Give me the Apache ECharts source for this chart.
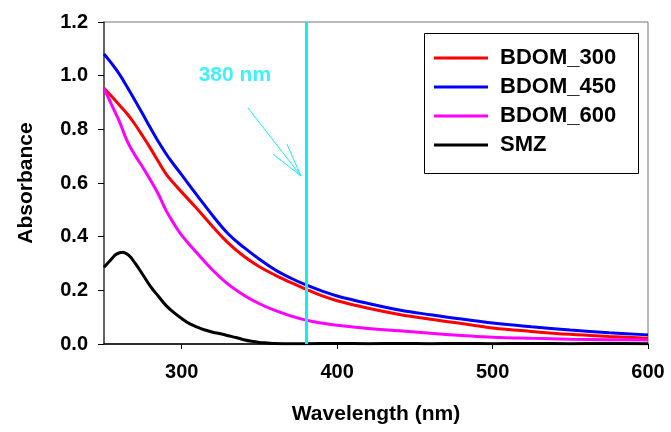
<!DOCTYPE html>
<html>
<head>
<meta charset="utf-8">
<script src="https://cdn.jsdelivr.net/npm/echarts@6/dist/echarts.min.js"></script>
<style>html,body{margin:0;padding:0;background:#fff}#c{width:671px;height:432px}</style>
</head>
<body>
<div id="c"></div>
<script>
var wlDOM = [250,255,260,265,270,275,280,285,290,295,300,310,320,330,340,350,360,370,380,390,400,420,440,460,480,500,525,550,575,600];
var bdom300 = [0.953,0.922,0.890,0.857,0.818,0.774,0.728,0.680,0.633,0.598,0.566,0.503,0.437,0.376,0.327,0.288,0.257,0.230,0.204,0.180,0.161,0.133,0.110,0.092,0.076,0.060,0.047,0.036,0.028,0.021];
var bdom450 = [1.081,1.045,1.005,0.957,0.907,0.856,0.804,0.754,0.708,0.668,0.630,0.553,0.478,0.410,0.360,0.316,0.277,0.246,0.220,0.198,0.179,0.151,0.127,0.109,0.093,0.078,0.064,0.052,0.042,0.034];
var bdom600 = [0.953,0.890,0.828,0.755,0.703,0.658,0.610,0.558,0.497,0.448,0.405,0.338,0.275,0.222,0.182,0.150,0.125,0.105,0.089,0.078,0.070,0.058,0.049,0.040,0.032,0.025,0.021,0.018,0.016,0.015];
var wlSMZ = [250,255,258,262,266,270,275,280,285,290,295,300,305,310,315,320,325,330,335,340,345,350,355,360,370,380,400,420,440,460,480,500,525,550,575,600];
var smz = [0.286,0.318,0.335,0.342,0.330,0.301,0.258,0.214,0.178,0.143,0.117,0.095,0.076,0.063,0.052,0.044,0.038,0.031,0.024,0.016,0.010,0.006,0.004,0.002,0.001,0.001,0.002,0.001,0.002,0.001,0.002,0.001,0.002,0.001,0.002,0.001];
var xTicks = [300,400,500,600];
var markWavelength = 380;
var arrowShaft = [[342.6,0.880],[376.7,0.626]];
var arrowHead = [[358.7,0.708],[376.7,0.626],[367.7,0.745]];
var noteText = '380 nm';
var notePos = [334.2,1.003];

function pairs(xs, ys){ return xs.map(function(x,i){ return [x, ys[i]]; }); }

var FONT = '"Liberation Sans", Arial, sans-serif';
var cyan = '#10EEF2';
var chart = echarts.init(document.getElementById('c'), null, {renderer:'canvas'});
function lineSeries(name, data, color){
  return {name:name, type:'line', data:data, symbol:'none', smooth:0.4,
          lineStyle:{color:color, width:3}, itemStyle:{color:color}, z:3};
}
chart.setOption({
  animation:false,
  backgroundColor:'#fff',
  grid:{left:104, top:22, width:544, height:322, show:true, borderColor:'#777', borderWidth:1, backgroundColor:'transparent'},
  legend:{
    orient:'vertical', left:434, top:47, itemWidth:54, itemHeight:3, itemGap:7, icon:'rect',
    data:['BDOM_300','BDOM_450','BDOM_600','SMZ'],
    textStyle:{fontFamily:FONT, fontWeight:'bold', fontSize:22, color:'#000', lineHeight:21, padding:[0,0,0,7]},
    padding:0
  },
  graphic:[{type:'rect', left:422, top:31, shape:{width:214, height:140}, style:{fill:'none', stroke:'#000', lineWidth:1}, z:-1}],
  xAxis:{
    type:'value', min:250, max:600,
    name:'Wavelength (nm)', nameLocation:'middle', nameGap:60,
    nameTextStyle:{fontFamily:FONT, fontWeight:'bold', fontSize:21, color:'#000'},
    axisLine:{show:true, onZero:false, lineStyle:{color:'#000', width:1.5}},
    axisTick:{show:true, length:5, customValues:xTicks, lineStyle:{color:'#000'}},
    axisLabel:{customValues:xTicks, margin:18, fontFamily:FONT, fontWeight:'bold', fontSize:20, color:'#000'},
    splitLine:{show:false}
  },
  yAxis:{
    type:'value', min:0, max:1.2, interval:0.2,
    name:'Absorbance', nameLocation:'middle', nameGap:67,
    nameTextStyle:{fontFamily:FONT, fontWeight:'bold', fontSize:21, color:'#000'},
    axisLine:{show:true, lineStyle:{color:'#444', width:1.5}},
    axisTick:{show:true, length:6, lineStyle:{color:'#000'}},
    axisLabel:{margin:16, fontFamily:FONT, fontWeight:'bold', fontSize:20, color:'#000', formatter:function(v){return v.toFixed(1);}},
    splitLine:{show:false}
  },
  series:[
    lineSeries('BDOM_300', pairs(wlDOM,bdom300), '#FF0000'),
    lineSeries('BDOM_450', pairs(wlDOM,bdom450), '#0000FF'),
    lineSeries('BDOM_600', pairs(wlDOM,bdom600), '#FF00FF'),
    lineSeries('SMZ', pairs(wlSMZ,smz), '#000000'),
    {type:'line', data:arrowShaft, symbol:'none', lineStyle:{color:cyan, width:1}, z:4, silent:true},
    {type:'line', data:arrowHead, symbol:'none', lineStyle:{color:cyan, width:1}, z:4, silent:true,
     markLine:{silent:true, symbol:['none','none'], label:{show:false}, lineStyle:{color:cyan, width:3, type:'solid'}, data:[{xAxis:markWavelength}], animation:false}},
    {type:'scatter', data:[notePos], symbolSize:0, z:5, silent:true,
     label:{show:true, position:'inside', formatter:function(){return noteText;}, fontFamily:FONT, fontWeight:'bold', fontSize:21, color:cyan}}
  ]
});
</script>
</body>
</html>
